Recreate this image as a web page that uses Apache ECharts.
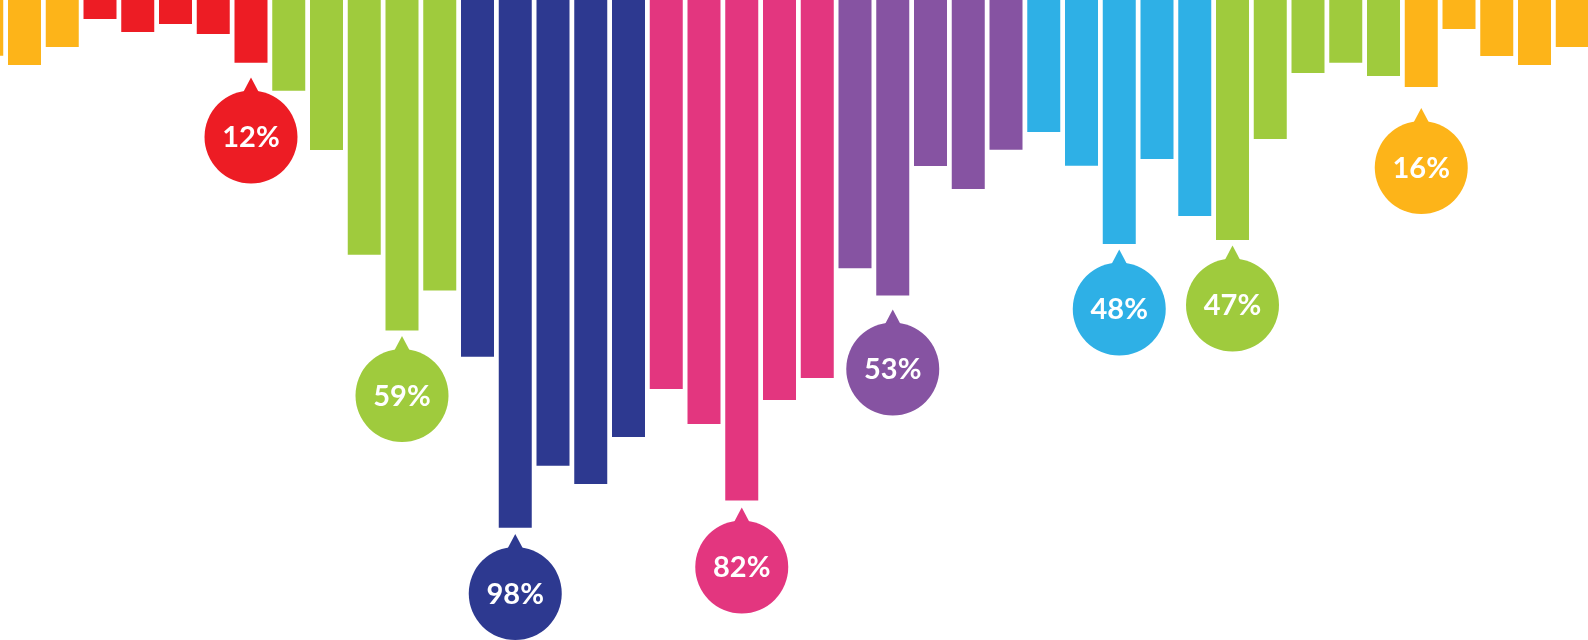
<!DOCTYPE html>
<html>
<head>
<meta charset="utf-8">
<script src="https://cdn.jsdelivr.net/npm/echarts@6/dist/echarts.min.js"></script>
<style>
  html, body { margin: 0; padding: 0; background: #fff; }
  #chart { width: 1588px; height: 640px; }
</style>
</head>
<body>
<div id="chart"></div>
<script>
// bar lengths, measured from the top edge (chart height = 640)
const barValues = [
  55.7, 65, 47,
  19, 32, 24, 34, 62.7,
  90.7, 150, 254.7, 330.6, 290.6,
  356.7, 527.8, 465.7, 484, 437.1,
  389, 424, 500.4, 400, 378,
  268.2, 295.5, 166.1, 189, 149.8,
  132, 165.7, 244, 159, 216,
  240, 139, 73, 62.7, 76,
  87, 29, 56, 65, 47
]

// colour group of each run of bars
const groupColors = ["#fdb419", "#ed1c24", "#9fcb3d", "#2d3990", "#e3367f", "#8653a2", "#2eb0e6", "#9fcb3d", "#fdb419"]
const groupSizes = [3, 5, 5, 5, 5, 5, 5, 5, 5]

// callout bubbles: bar index, label, bubble centre
const bubbleIndex = [7, 11, 14, 20, 24, 30, 33, 38]
const bubbleLabels = ["12%", "59%", "98%", "82%", "53%", "48%", "47%", "16%"]
const bubbleCenters = [137, 395.5, 593.5, 567, 369, 309, 305, 167.5]

const barColors = []
groupSizes.forEach((n, g) => {
  for (let k = 0; k < n; k++) barColors.push(groupColors[g])
})

const chart = echarts.init(document.getElementById("chart"))

const R = 46.5

// the strip runs past both edges: first bar is cut by the left edge
const option = {
  animation: false,
  grid: {
    left: 0,
    top: 0,
    right: 0,
    bottom: 0,
  },
  xAxis: {
    type: "value",
    min: 0.351,
    max: 42.417,
    show: false,
  },
  yAxis: {
    type: "value",
    inverse: true,
    min: 0,
    max: 640,
    show: false,
  },
  series: [
    {
      type: "bar",
      barWidth: 33,
      clip: true,
      data: barValues.map((v, i) => ({
        value: [i, v],
        itemStyle: { color: barColors[i] },
      })),
    },
    {
      type: "custom",
      clip: false,
      data: bubbleIndex.map((idx, i) => [idx, bubbleCenters[i]]),
      renderItem: (params, api) => {
        const idx = api.value(0)
        const p = api.coord([idx, api.value(1)])
        const cx = p[0]
        const cy = p[1]
        const color = barColors[idx]
        const label = bubbleLabels[params.dataIndex]
        return {
          type: "group",
          children: [
            {
              type: "polygon",
              shape: {
                points: [
                  [cx, cy - R - 13],
                  [cx - 9, cy - R + 4],
                  [cx + 9, cy - R + 4],
                ],
              },
              style: { fill: color },
            },
            {
              type: "circle",
              shape: { cx: cx, cy: cy, r: R },
              style: { fill: color },
            },
            {
              type: "text",
              style: {
                text: label,
                x: cx,
                y: cy + 1,
                fill: "#ffffff",
                font: "bold 29px Lato",
                align: "center",
                verticalAlign: "middle",
              },
            },
          ],
        }
      },
    },
  ],
}

chart.setOption(option)

window.addEventListener("resize", () => chart.resize())
</script>
</body>
</html>
